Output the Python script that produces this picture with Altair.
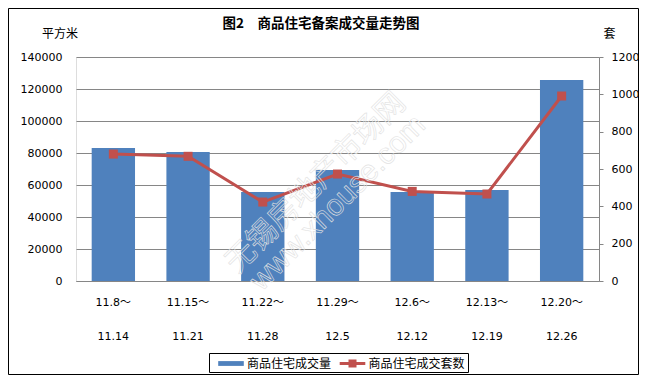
import altair as alt
import pandas as pd

# ---- data ----
week_start = ["11.8～", "11.15～", "11.22～", "11.29～", "12.6～", "12.13～", "12.20～"]
week_end = ["11.14", "11.21", "11.28", "12.5", "12.12", "12.19", "12.26"]
area = [83100, 80700, 55700, 69400, 55600, 56900, 125700]   # 平方米
units = [680, 668, 423, 573, 480, 466, 991]                  # 套
series = ["商品住宅成交量", "商品住宅成交套数"]
left_ticks = [0, 20000, 40000, 60000, 80000, 100000, 120000, 140000]
right_ticks = [0, 200, 400, 600, 800, 1000, 1200]
title_text = "图2　商品住宅备案成交量走势图"
left_unit = "平方米"
right_unit = "套"
watermark_cn = "无锡房地产市场网"
watermark_en = "www.xhouse.com"

weeks = [s + "|" + e for s, e in zip(week_start, week_end)]
df = pd.DataFrame({"week": weeks, "area": area, "units": units})

FONT = "DejaVu Sans, Noto Sans CJK SC"
CJK = "Noto Sans CJK SC"
GRAY = "#868686"
BLUE = "#4F81BD"
RED = "#C0504D"

W, H = 523, 224
PAD = {"left": 68, "top": 49, "right": 40, "bottom": 94}

x_enc = alt.X(
    "week:N", sort=weeks, title=None,
    scale=alt.Scale(paddingInner=0.42, paddingOuter=0.21),
    axis=alt.Axis(
        labelExpr="split(datum.label, '|')", labelAngle=0, labelFont=FONT,
        labelFontSize=11, labelColor="black", labelLineHeight=34,
        labelPadding=15, ticks=False, domainColor=GRAY, domainWidth=1,
        labelBaseline="top", grid=False,
    ),
)

color_scale = alt.Scale(domain=series, range=[BLUE, RED])
is_first = "datum.value === '" + series[0] + "'"
legend = alt.Legend(
    title=None, orient="none", legendX=133, legendY=296, direction="horizontal",
    strokeColor="black", fillColor="white", padding=2.5,
    labelFont=CJK, labelFontSize=12, labelColor="black", labelBaseline="middle",
    symbolSize=256, symbolOffset=11.5, labelOffset=8, columnPadding=1.5,
    symbolType={"expr": is_first + " ? 'M-1.6,-0.3H1.6V0.3H-1.6Z' : 'M-1.6,-0.19H1.6V0.19H-1.6Z M-0.5,-0.5H0.5V0.5H-0.5Z'"},
    symbolFillColor={"expr": is_first + " ? '" + BLUE + "' : '" + RED + "'"},
    symbolStrokeColor="transparent", symbolStrokeWidth=0, symbolOpacity=1,
)

bars = alt.Chart(df).transform_calculate(
    series="'" + series[0] + "'"
).mark_bar().encode(
    x=x_enc,
    y=alt.Y(
        "area:Q",
        scale=alt.Scale(domain=[0, 140000], nice=False),
        axis=alt.Axis(
            values=left_ticks, format="d", title=left_unit, titleAngle=0,
            titleX=-16.5, titleY=-24, titleAlign="center", titleBaseline="middle",
            titleFont=CJK, titleFontSize=12, titleFontWeight="normal", titleColor="black",
            domain=False, ticks=False, grid=True, gridColor=GRAY, gridWidth=1,
            labelFont=FONT, labelFontSize=11, labelColor="black", labelPadding=14,
        ),
    ),
    color=alt.Color("series:N", scale=color_scale, legend=legend),
)

line = alt.Chart(df).transform_calculate(
    series="'" + series[1] + "'"
).mark_line(
    strokeWidth=3,
    point=alt.OverlayMarkDef(shape="square", size=81, filled=True, opacity=1),
).encode(
    x=x_enc,
    y=alt.Y(
        "units:Q",
        scale=alt.Scale(domain=[0, 1200], nice=False),
        axis=alt.Axis(
            orient="right", values=right_ticks, format="d", title=right_unit, titleAngle=0,
            titleX=10, titleY=-24, titleAlign="center", titleBaseline="middle",
            titleFont=CJK, titleFontSize=12, titleFontWeight="normal", titleColor="black",
            domain=True, domainColor=GRAY, ticks=True, tickSize=4, tickColor=GRAY,
            grid=False, labelFont=FONT, labelFontSize=11, labelColor="black", labelPadding=8,
        ),
    ),
    color=alt.Color("series:N"),
)

one = pd.DataFrame({"t": [0]})
wm1 = alt.Chart(one).mark_text(
    text=watermark_cn, font=CJK, fontSize=30, angle=315, align="center", baseline="middle",
    fillOpacity=0, stroke="#e2e2e2", strokeWidth=0.6,
).encode(x=alt.value(240), y=alt.value(126))
wm2 = alt.Chart(one).mark_text(
    text=watermark_en, font="Liberation Sans", fontSize=30, angle=315, align="center",
    baseline="middle", fillOpacity=0, stroke="#e2e2e2", strokeWidth=0.6,
).encode(x=alt.value(262), y=alt.value(146))

title = alt.Chart(one).mark_text(
    text=title_text, font=CJK, fontSize=13.5, fontWeight="bold", color="black",
    align="center", baseline="middle",
).encode(x=alt.value(245), y=alt.value(-33))

border = alt.Chart(one).mark_rect(
    fillOpacity=0, stroke="black", strokeWidth=1,
).encode(
    x=alt.value(-PAD["left"] + 0.5), x2=alt.value(W + PAD["right"] - 0.5),
    y=alt.value(-PAD["top"] + 0.5), y2=alt.value(H + PAD["bottom"] - 0.5),
)

chart = alt.layer(bars, line, wm1, wm2, title, border).resolve_scale(y="independent").properties(
    width=W, height=H, padding=PAD,
    autosize=alt.AutoSizeParams(type="none"),
).configure_view(strokeWidth=0).configure(background="white")

chart.save("out.html", embed_options={"renderer": "svg", "actions": False})
